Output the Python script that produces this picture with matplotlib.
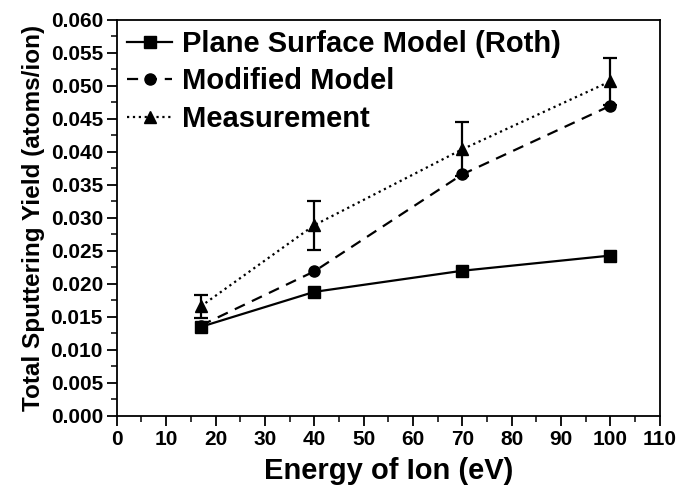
import matplotlib
matplotlib.use("Agg")
import matplotlib.pyplot as plt
from matplotlib.ticker import MultipleLocator
from matplotlib.lines import Line2D

plt.rcParams['font.family'] = ['Liberation Sans', 'DejaVu Sans']
plt.rcParams['font.weight'] = 'bold'

# data
energy = [17, 40, 70, 100]
roth = [0.0135, 0.0188, 0.0220, 0.0243]
modified = [0.0137, 0.0219, 0.0366, 0.0470]
measured = [0.0166, 0.0289, 0.0404, 0.0507]
measured_err = [0.0017, 0.0037, 0.0041, 0.0036]

fig = plt.figure(figsize=(6.83, 4.97), dpi=100)
ax = fig.add_axes([0.171, 0.163, 0.795, 0.797])

l1, = ax.plot(energy, roth, '-', color='black', lw=1.6, marker='s', ms=8,
              label='Plane Surface Model (Roth)', zorder=3)
l2, = ax.plot(energy, modified, '--', color='black', lw=1.6, marker='o', ms=8,
              dashes=(5, 3.5), label='Modified Model', zorder=3)
ax.errorbar(energy, measured, yerr=measured_err, fmt='none', ecolor='black',
            capsize=5, elinewidth=1.6, capthick=1.6, zorder=3)
l3, = ax.plot(energy, measured, ':', color='black', lw=1.6, marker='^', ms=9,
              label='Measurement', zorder=4)

ax.set_xlim(0, 110)
ax.set_ylim(0, 0.060)
ax.xaxis.set_major_locator(MultipleLocator(10))
ax.xaxis.set_minor_locator(MultipleLocator(5))
ax.yaxis.set_major_locator(MultipleLocator(0.005))
ax.yaxis.set_minor_locator(MultipleLocator(0.0025))
ax.yaxis.set_major_formatter(matplotlib.ticker.FormatStrFormatter('%.3f'))

ax.tick_params(which='major', direction='out', length=7, width=1.3, labelsize=15, pad=3)
ax.tick_params(which='minor', direction='out', length=4, width=1.1)
for s in ax.spines.values():
    s.set_linewidth(1.3)

ax.set_xlabel('Energy of Ion (eV)', fontsize=21, fontweight='bold', labelpad=6)
ax.set_ylabel('Total Sputtering Yield (atoms/ion)', fontsize=17.5, fontweight='bold', labelpad=4)

ax.legend([l1, l2, l3], [l1.get_label(), l2.get_label(), l3.get_label()],
          loc='upper left', frameon=False, fontsize=21,
          handlelength=1.55, handletextpad=0.35, labelspacing=0.32,
          borderaxespad=0.0, borderpad=0.35, bbox_to_anchor=(0.0, 1.0))

fig.savefig('out.png', dpi=100)
